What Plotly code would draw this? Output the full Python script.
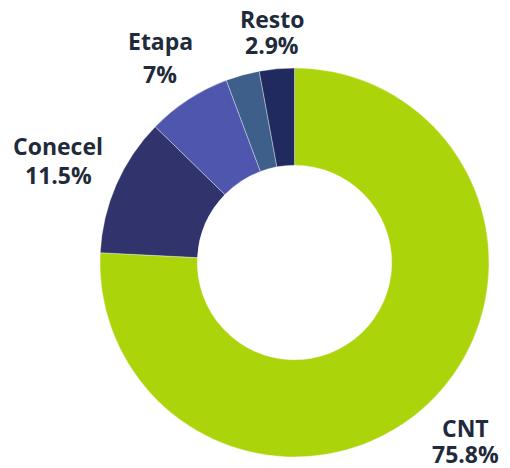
import plotly.graph_objects as go

labels = ["CNT", "Conecel", "Etapa", "Otros", "Resto"]
values = [75.8, 11.5, 7.0, 2.8, 2.9]
shown = [True, True, True, False, True]
colors = ["#acd40a", "#31346c", "#4e57ad", "#3d5f8a", "#212a5e"]

OFF = 8  # default page body margin
W, H = 510 - OFF, 468 - OFF
L, R, T, B = 100 - OFF, 21, 68 - OFF, 11
PW, PH = W - L - R, H - T - B

def px(x, y):
    x -= OFF
    y -= OFF
    return (x - L) / PW, 1 - (y - T) / PH

# label centres (screen pixels): name line, value line
label_pos = {
    "CNT": ((465, 428), (465, 454)),
    "Conecel": ((58, 146), (58, 175)),
    "Etapa": ((160, 41), (160, 74)),
    "Resto": ((272, 19), (272, 45)),
}

fig = go.Figure(go.Pie(
    labels=labels, values=values, hole=0.5, sort=False,
    direction="clockwise", rotation=0,
    marker=dict(colors=colors, line=dict(color="rgba(255,255,255,0.6)", width=0.6)),
    textinfo="none", hoverinfo="label+percent", showlegend=False,
))

font = dict(family="Open Sans", size=23, color="#1f2b3b")
for lab, val, s in zip(labels, values, shown):
    if not s:
        continue
    (x1, y1), (x2, y2) = label_pos[lab]
    pct = f"{val:g}%"
    for (xx, yy), txt in (((x1, y1), f"<b>{lab}</b>"), ((x2, y2), f"<b>{pct}</b>")):
        ax, ay = px(xx, yy)
        fig.add_annotation(x=ax, y=ay, xref="paper", yref="paper", text=txt,
                           showarrow=False, xanchor="center", yanchor="middle",
                           borderpad=0, font=font)

fig.update_layout(width=W, height=H, margin=dict(l=L, r=R, t=T, b=B),
                  paper_bgcolor="white", plot_bgcolor="white")
fig.write_html("out.html")
